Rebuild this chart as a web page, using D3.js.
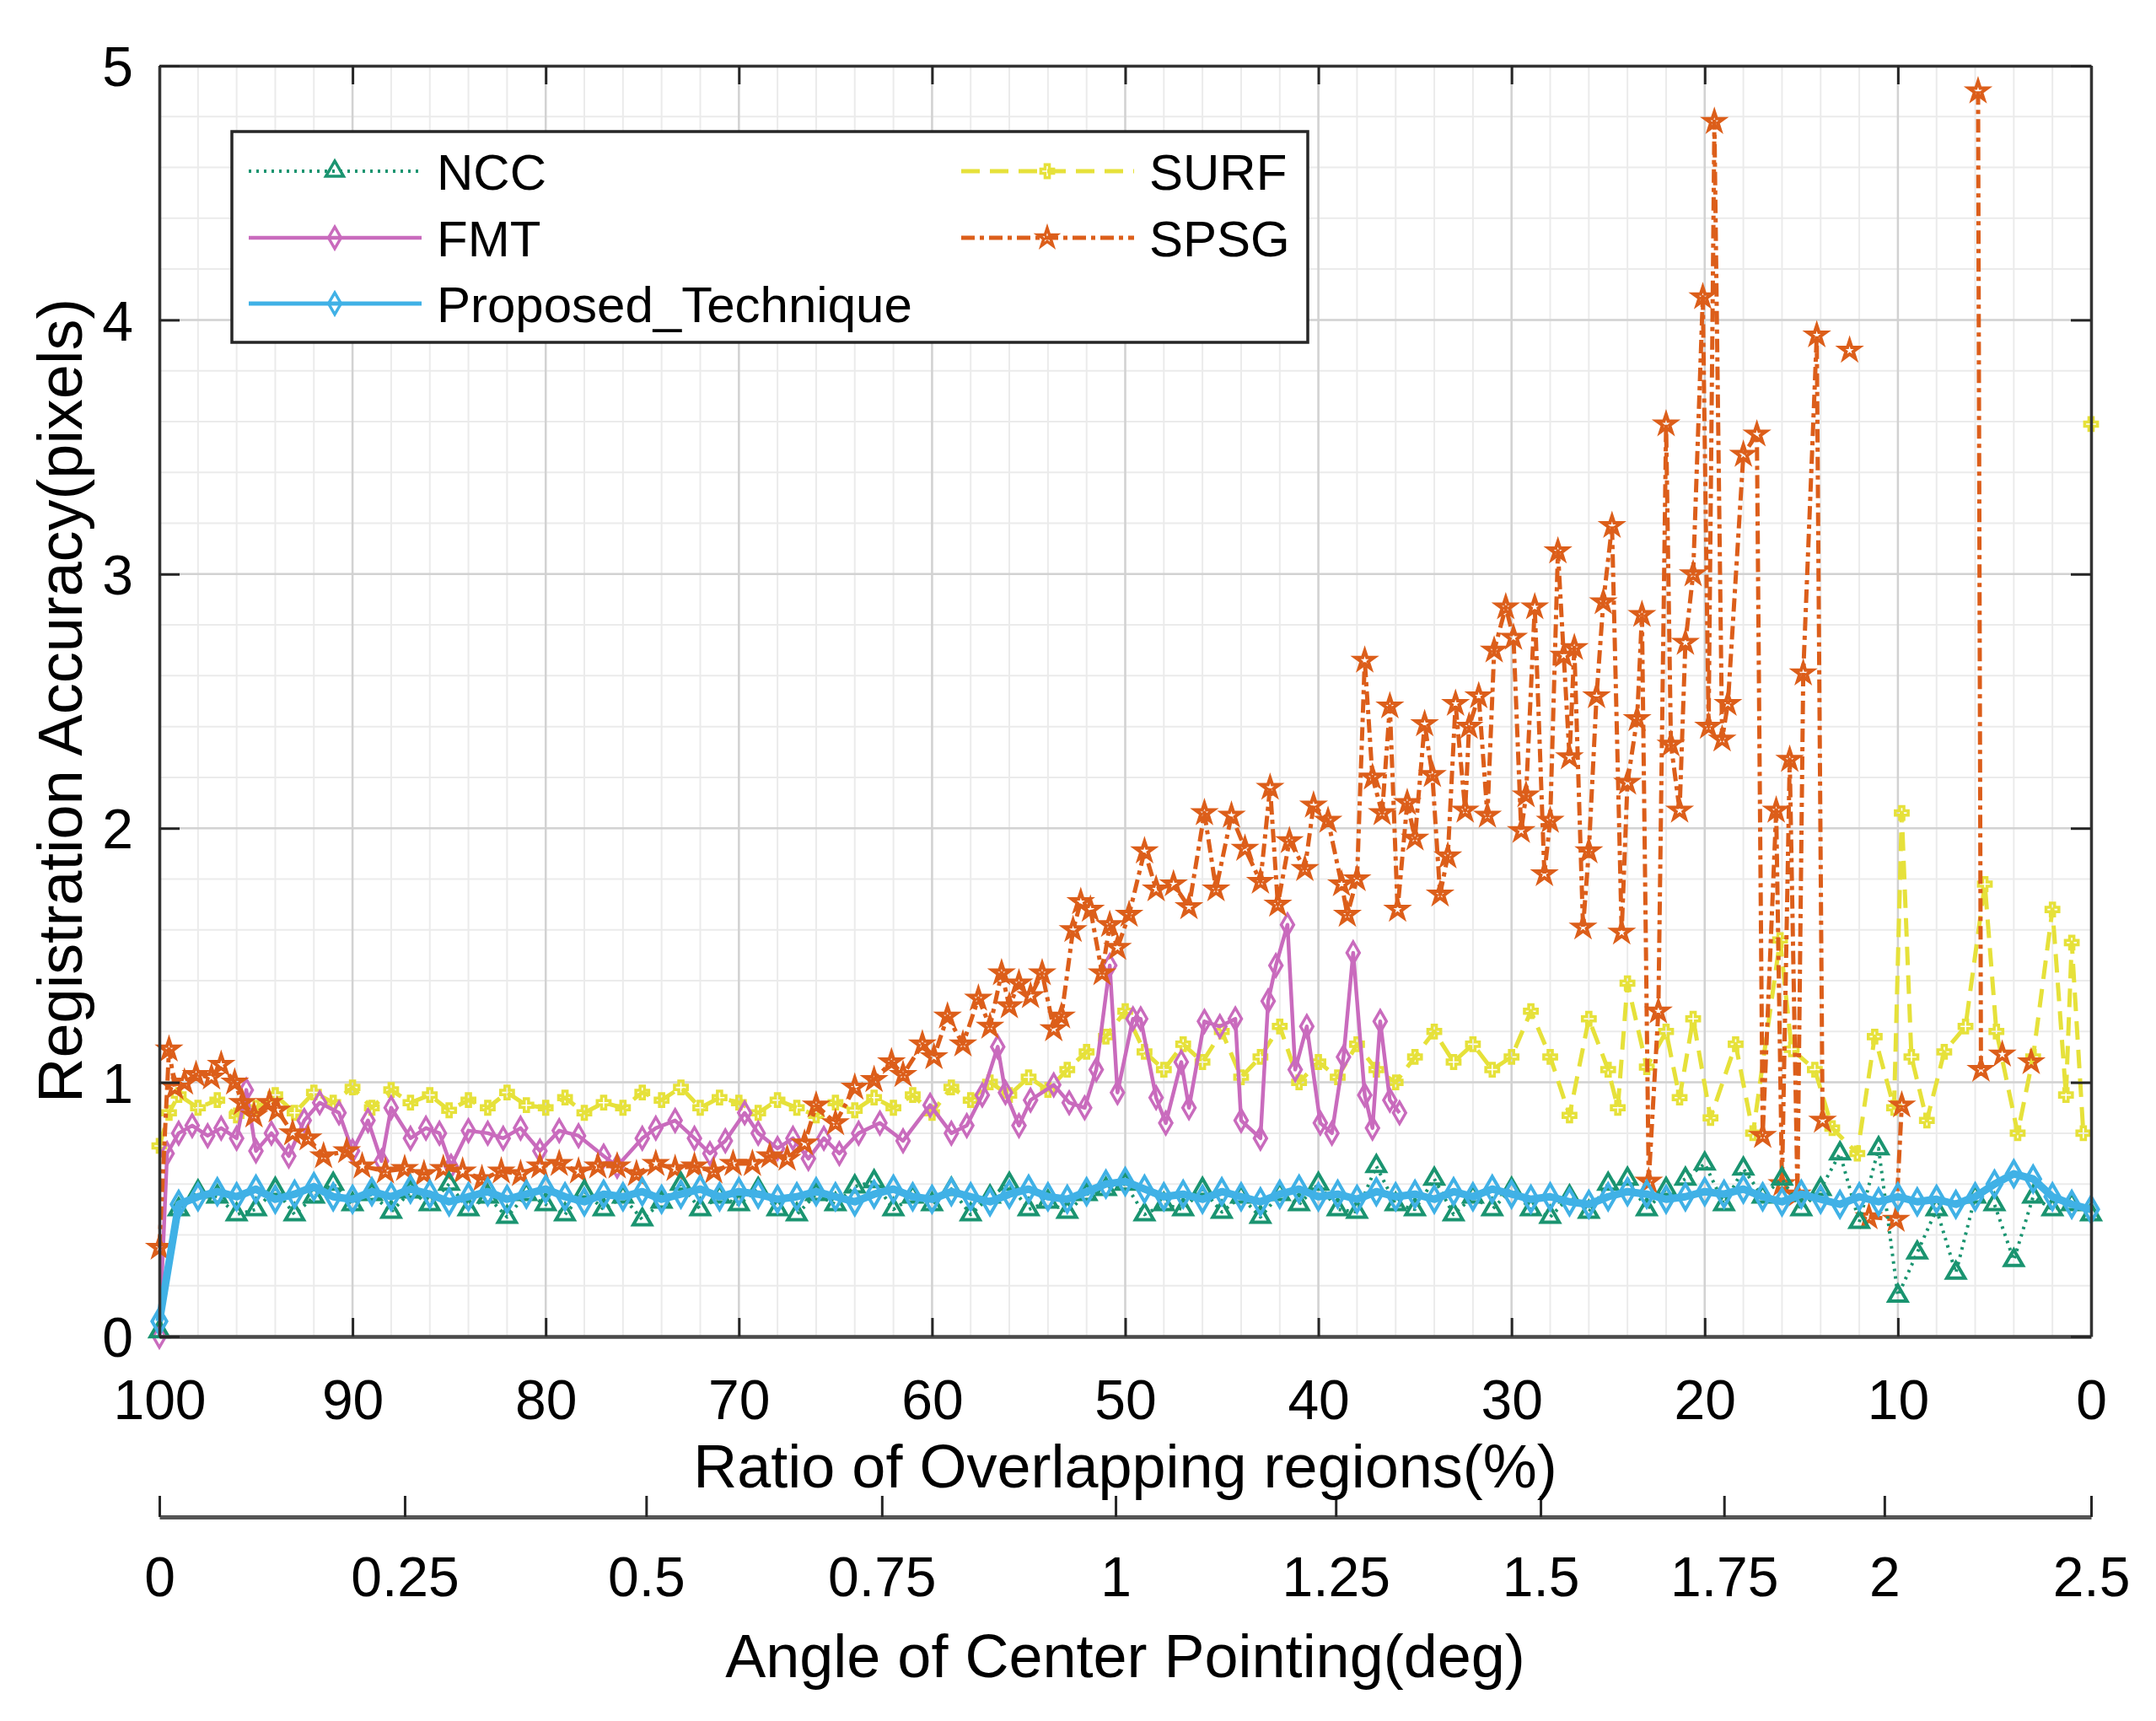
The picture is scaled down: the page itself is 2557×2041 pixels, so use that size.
<!DOCTYPE html>
<html><head><meta charset="utf-8">
<script src="https://cdn.jsdelivr.net/npm/d3@7"></script>
<style>
body{margin:0;background:#fff;}
text{font-family:"Liberation Sans",Arial,Helvetica,sans-serif;fill:#000;}
</style>
</head><body>
<svg id="chart" width="2557" height="2041"></svg>
<script>
// ---------------- DATA ----------------
const overlapTicks = [100,90,80,70,60,50,40,30,20,10,0];
const accuracyTicks = [0,1,2,3,4,5];
const angleTickLabels = ["0","0.25","0.5","0.75","1","1.25","1.5","1.75","2","2.5"];
const angleTickOverlap = [100,87.3,74.8,62.6,50.5,39.1,28.5,19.0,10.7,0];

const seriesNames = ["NCC","FMT","Proposed_Technique","SURF","SPSG"];

const gridX = [100,99,98,97,96,95,94,93,92,91,90,89,88,87,86,85,84,83,82,81,80,79,78,77,76,75,74,73,72,71,70,69,68,67,66,65,64,63,62,61,60,59,58,57,56,55,54,53,52,51,50,49,48,47,46,45,44,43,42,41,40,39,38,37,36,35,34,33,32,31,30,29,28,27,26,25,24,23,22,21,20,19,18,17,16,15,14,13,12,11,10,9,8,7,6,5,4,3,2,1,0];

const nccY = [0.02,0.5,0.57,0.55,0.48,0.5,0.58,0.48,0.55,0.6,0.52,0.56,0.49,0.57,0.52,0.6,0.5,0.55,0.47,0.56,0.52,0.48,0.57,0.5,0.55,0.46,0.53,0.6,0.5,0.55,0.52,0.58,0.5,0.48,0.56,0.52,0.59,0.61,0.5,0.55,0.52,0.58,0.48,0.55,0.6,0.5,0.53,0.49,0.56,0.58,0.6,0.48,0.52,0.5,0.58,0.49,0.55,0.47,0.56,0.52,0.6,0.5,0.49,0.67,0.52,0.5,0.62,0.48,0.55,0.5,0.58,0.5,0.47,0.55,0.49,0.6,0.62,0.5,0.58,0.62,0.68,0.52,0.66,0.55,0.62,0.5,0.58,0.72,0.45,0.74,0.16,0.33,0.5,0.25,0.55,0.52,0.3,0.55,0.5,0.52,0.48];

const proposedY = [0.06,0.52,0.55,0.57,0.55,0.58,0.54,0.56,0.59,0.55,0.54,0.57,0.55,0.58,0.56,0.53,0.55,0.57,0.54,0.56,0.58,0.55,0.53,0.56,0.55,0.57,0.54,0.56,0.58,0.55,0.57,0.56,0.54,0.55,0.57,0.55,0.53,0.56,0.58,0.55,0.54,0.57,0.55,0.53,0.56,0.58,0.55,0.54,0.57,0.6,0.61,0.58,0.55,0.56,0.54,0.57,0.55,0.53,0.56,0.58,0.55,0.56,0.54,0.57,0.55,0.56,0.54,0.57,0.55,0.58,0.56,0.54,0.55,0.53,0.52,0.55,0.57,0.56,0.54,0.55,0.57,0.56,0.58,0.55,0.53,0.56,0.54,0.52,0.55,0.53,0.55,0.53,0.54,0.52,0.55,0.6,0.64,0.62,0.55,0.52,0.5];

const fmtX = [100,99.6,99,98.3,97.5,96.8,96,95.5,95,94.2,93.3,92.5,91.7,90.7,90,89.2,88.5,88,87,86.2,85.5,84.9,84,83,82.2,81.3,80.3,79.3,78.3,77,76.3,75,74.3,73.3,72.3,71.5,70.7,69.7,69,68,67.2,66.4,65.6,64.8,63.8,62.7,61.5,60.1,59,58.2,57.4,56.6,56.2,55.5,54.9,53.7,52.9,52.1,51.5,50.8,50.4,49.6,49.2,48.4,47.9,47.1,46.7,45.9,45.1,44.3,44,43,42.6,42.2,41.6,41.2,40.6,39.9,39.3,38.7,38.2,37.6,37.2,36.8,36.3,35.8];
const fmtY = [0.0,0.72,0.8,0.83,0.79,0.82,0.78,0.97,0.73,0.8,0.71,0.85,0.92,0.88,0.73,0.85,0.69,0.9,0.78,0.82,0.8,0.67,0.81,0.8,0.78,0.82,0.73,0.81,0.79,0.71,0.67,0.78,0.82,0.85,0.78,0.72,0.77,0.88,0.8,0.74,0.78,0.7,0.78,0.72,0.8,0.84,0.77,0.91,0.8,0.83,0.95,1.14,0.96,0.83,0.93,0.99,0.92,0.9,1.05,1.46,0.96,1.25,1.25,0.94,0.84,1.08,0.9,1.24,1.22,1.25,0.85,0.78,1.32,1.46,1.62,1.05,1.22,0.84,0.8,1.1,1.51,0.95,0.82,1.24,0.93,0.88];

const surfX = [100,99.5,99,98,97,96,95,94,93,92,91,90,89,88,87,86,85,84,83,82,81,80,79,78,77,76,75,74,73,72,71,70,69,68,67,66,65,64,63,62,61,60,59,58,57,56,55,54,53,52,51,50,49,48,47,46,45,44,43,42,41,40,39,38,37,36,35,34,33,32,31,30,29,28,27,26,25,24.5,24,23,22,21.3,20.6,19.7,18.4,17.5,16.1,15.5,14.3,13.4,12.1,11.2,10.2,9.8,9.3,8.5,7.6,6.5,5.5,4.9,3.8,3,2,1.3,1,0.4,0.2,0];
const surfY = [0.75,0.88,0.95,0.9,0.93,0.87,0.9,0.95,0.88,0.96,0.92,0.98,0.9,0.97,0.92,0.95,0.89,0.93,0.9,0.96,0.91,0.9,0.94,0.88,0.92,0.9,0.96,0.93,0.98,0.9,0.94,0.92,0.88,0.93,0.9,0.87,0.92,0.89,0.94,0.9,0.95,0.88,0.98,0.93,1.0,0.95,1.02,0.97,1.05,1.12,1.18,1.28,1.12,1.05,1.15,1.08,1.2,1.02,1.1,1.22,1.0,1.08,1.02,1.15,1.05,1.0,1.1,1.2,1.08,1.15,1.05,1.1,1.28,1.1,0.87,1.25,1.05,0.9,1.39,1.06,1.2,0.94,1.25,0.86,1.15,0.8,1.56,1.13,1.05,0.82,0.72,1.18,0.9,2.06,1.1,0.85,1.12,1.22,1.78,1.2,0.8,1.1,1.68,0.95,1.55,0.8,null,3.59];

const spsgX = [100,99.5,99.2,98.7,98.1,97.3,96.8,96.1,95.7,95.1,94.3,93.9,93.1,92.3,91.5,90.3,89.5,88.3,87.3,86.3,85.3,84.3,83.3,82.3,81.3,80.3,79.3,78.3,77.3,76.3,75.3,74.3,73.3,72.3,71.3,70.3,69.3,68.4,67.5,66.6,66,65,64,63,62.1,61.5,60.5,59.9,59.2,58.4,57.6,57,56.4,56,55.5,54.9,54.3,53.7,53.3,52.7,52.3,51.8,51.2,50.8,50.4,49.8,49,48.4,47.5,46.7,45.9,45.3,44.5,43.8,43,42.5,42.1,41.5,40.7,40.25,39.5,38.8,38.5,38,37.6,37.2,36.7,36.3,35.9,35.4,35,34.5,34.1,33.7,33.3,32.9,32.4,32.2,31.7,31.25,30.9,30.3,29.9,29.5,29.25,28.8,28.3,28,27.6,27.3,27,26.75,26.3,26,25.6,25.25,24.8,24.3,24,23.5,23.25,22.9,22.4,22,21.75,21.3,21,20.6,20.1,19.8,19.5,19.1,18.8,18,17.3,17,16.3,16,15.6,15.2,14.9,14.2,13.9,13.2,12.5,12,11.5,10.1,9.8,7.8,5.85,5.7,5.1,4.6,3.8,3.1];
const spsgY = [0.35,1.13,0.98,1.0,1.03,1.02,1.07,1.0,0.92,0.87,0.92,0.89,0.8,0.78,0.71,0.73,0.67,0.65,0.66,0.64,0.66,0.65,0.62,0.65,0.64,0.67,0.68,0.65,0.67,0.67,0.64,0.68,0.66,0.67,0.65,0.68,0.68,0.71,0.7,0.76,0.91,0.84,0.98,1.01,1.08,1.03,1.15,1.1,1.26,1.15,1.33,1.22,1.43,1.3,1.39,1.34,1.43,1.21,1.26,1.6,1.71,1.68,1.43,1.62,1.53,1.66,1.91,1.76,1.78,1.69,2.06,1.76,2.05,1.92,1.79,2.16,1.7,1.95,1.84,2.09,2.03,1.78,1.66,1.8,2.66,2.2,2.06,2.48,1.68,2.1,1.96,2.41,2.21,1.74,1.89,2.49,2.07,2.4,2.52,2.05,2.7,2.87,2.75,1.99,2.13,2.87,1.82,2.03,3.09,2.68,2.28,2.71,1.61,1.91,2.52,2.89,3.19,1.59,2.18,2.43,2.84,0.61,1.28,3.59,2.33,2.07,2.73,3.0,4.09,2.4,4.78,2.35,2.49,3.47,3.55,0.79,2.07,0.6,2.27,0.56,2.61,3.94,0.85,null,3.88,null,0.47,0.46,0.91,null,4.9,1.05,null,1.11,null,1.08];

// ---------------- STYLE / LAYOUT ----------------
const W = 2557, H = 2041;
const L = 189, R = 2480, T = 78, B = 1585;
const svg = d3.select("#chart");
svg.append("rect").attr("width", W).attr("height", H).attr("fill", "#fff");

const x = d3.scaleLinear().domain([100, 0]).range([L, R]);
const y = d3.scaleLinear().domain([0, 5]).range([B, T]);

// grid
const grid = svg.append("g");
grid.selectAll(".mx").data(x.ticks(50)).join("line")
  .attr("x1", d => x(d)).attr("x2", d => x(d)).attr("y1", T).attr("y2", B)
  .attr("stroke", "#ebebeb").attr("stroke-width", 2);
grid.selectAll(".my").data(y.ticks(25)).join("line")
  .attr("x1", L).attr("x2", R).attr("y1", d => y(d)).attr("y2", d => y(d))
  .attr("stroke", "#ebebeb").attr("stroke-width", 2);
grid.selectAll(".gx").data(overlapTicks).join("line")
  .attr("x1", d => x(d)).attr("x2", d => x(d)).attr("y1", T).attr("y2", B)
  .attr("stroke", "#d2d2d2").attr("stroke-width", 2.5);
grid.selectAll(".gy").data(accuracyTicks).join("line")
  .attr("x1", L).attr("x2", R).attr("y1", d => y(d)).attr("y2", d => y(d))
  .attr("stroke", "#d2d2d2").attr("stroke-width", 2.5);

// series
function pts(xs, ys) { return xs.map((v, i) => ({x: v, y: ys[i]})); }
const lineGen = d3.line().defined(d => d.y != null).x(d => x(d.x)).y(d => y(d.y));

const series = [
  {name: seriesNames[3], data: pts(surfX, surfY), color: "#e6e13a", width: 5, dash: "22,12", symbol: d3.symbolCross, size: 130, mw: 3.5},
  {name: seriesNames[1], data: pts(fmtX, fmtY), color: "#c96bbd", width: 4.5, dash: null, symbol: d3.symbolDiamond, size: 190, mw: 3.5},
  {name: seriesNames[4], data: pts(spsgX, spsgY), color: "#dc5e1a", width: 5, dash: "16,6,5,6", symbol: d3.symbolStar, size: 150, mw: 4},
  {name: seriesNames[0], data: pts(gridX, nccY), color: "#1a9470", width: 4, dash: "3,6", symbol: d3.symbolTriangle, size: 200, mw: 4},
  {name: seriesNames[2], data: pts(gridX, proposedY), color: "#40b1e6", width: 9, dash: null, symbol: d3.symbolDiamond, size: 260, mw: 4}
];

const plot = svg.append("g");
series.forEach(s => {
  const g = plot.append("g");
  g.append("path").datum(s.data).attr("d", lineGen)
    .attr("fill", "none").attr("stroke", s.color).attr("stroke-width", s.width)
    .attr("stroke-dasharray", s.dash).attr("stroke-linejoin", "round");
  g.selectAll("path.m").data(s.data.filter(d => d.y != null)).join("path")
    .attr("class", "m")
    .attr("transform", d => `translate(${x(d.x)},${y(d.y)})`)
    .attr("d", d3.symbol().type(s.symbol).size(s.size))
    .attr("fill", "none").attr("stroke", s.color).attr("stroke-width", s.mw);
});

// axes box and ticks
const fontTick = 66;
function styleAxis(g) {
  g.selectAll("text").attr("font-size", fontTick).attr("font-family", "Liberation Sans, Arial, sans-serif").attr("fill", "#000");
  g.selectAll(".tick line").attr("stroke", "#262626").attr("stroke-width", 3);
}
const xAxisB = svg.append("g").attr("transform", `translate(0,${B})`)
  .call(d3.axisBottom(x).tickValues(overlapTicks).tickSize(-22).tickSizeOuter(0).tickPadding(51).tickFormat(d3.format("d")));
styleAxis(xAxisB);
xAxisB.select(".domain").attr("stroke", "#4a4a4a").attr("stroke-width", 4.5);

const xAxisT = svg.append("g").attr("transform", `translate(0,${T})`)
  .call(d3.axisTop(x).tickValues(overlapTicks).tickSize(-22).tickSizeOuter(0).tickFormat(""));
styleAxis(xAxisT);
xAxisT.select(".domain").attr("stroke", "#333").attr("stroke-width", 3.5);

const yAxisL = svg.append("g").attr("transform", `translate(${L},0)`)
  .call(d3.axisLeft(y).tickValues(accuracyTicks).tickSize(-24).tickSizeOuter(0).tickPadding(31).tickFormat(d3.format("d")));
styleAxis(yAxisL);
yAxisL.selectAll("text").attr("dy", "0.36em");
yAxisL.select(".domain").attr("stroke", "#333").attr("stroke-width", 3.5);

const yAxisR = svg.append("g").attr("transform", `translate(${R},0)`)
  .call(d3.axisRight(y).tickValues(accuracyTicks).tickSize(-24).tickSizeOuter(0).tickFormat(""));
styleAxis(yAxisR);
yAxisR.select(".domain").attr("stroke", "#333").attr("stroke-width", 3.5);

// secondary (angle) axis
const AY = 1799;
const angleAxis = svg.append("g").attr("transform", `translate(0,${AY})`)
  .call(d3.axisBottom(x).tickValues(angleTickOverlap).tickSize(-25).tickSizeOuter(0).tickPadding(47)
    .tickFormat((d, i) => angleTickLabels[i]));
styleAxis(angleAxis);
angleAxis.select(".domain").attr("stroke", "#555").attr("stroke-width", 5);

// axis titles
svg.append("text").attr("x", (L + R) / 2).attr("y", 1764).attr("text-anchor", "middle")
  .attr("font-size", 72).text("Ratio of Overlapping regions(%)");
svg.append("text").attr("x", (L + R) / 2).attr("y", 1989).attr("text-anchor", "middle")
  .attr("font-size", 72).text("Angle of Center Pointing(deg)");
svg.append("text").attr("transform", "translate(97,831) rotate(-90)").attr("text-anchor", "middle")
  .attr("font-size", 74).text("Registration Accuracy(pixels)");

// legend
const leg = svg.append("g");
leg.append("rect").attr("x", 275).attr("y", 156).attr("width", 1276).attr("height", 250)
  .attr("fill", "#fff").attr("stroke", "#262626").attr("stroke-width", 3.5);
const legendItems = [
  {s: series[3], lx: 295, ty: 203},
  {s: series[1], lx: 295, ty: 282},
  {s: series[4], lx: 295, ty: 360},
  {s: series[0], lx: 1140, ty: 203},
  {s: series[2], lx: 1140, ty: 282}
];
legendItems.forEach(it => {
  const s = it.s;
  leg.append("line").attr("x1", it.lx).attr("x2", it.lx + 205).attr("y1", it.ty).attr("y2", it.ty)
    .attr("stroke", s.color).attr("stroke-width", Math.min(s.width, 5)).attr("stroke-dasharray", s.dash);
  leg.append("path").attr("transform", `translate(${it.lx + 102},${it.ty})`)
    .attr("d", d3.symbol().type(s.symbol).size(Math.min(s.size, 190))).attr("fill", "none")
    .attr("stroke", s.color).attr("stroke-width", 3.5);
  leg.append("text").attr("x", it.lx + 223).attr("y", it.ty).attr("dy", "0.36em")
    .attr("font-size", 60).text(s.name);
});
</script>
</body></html>
